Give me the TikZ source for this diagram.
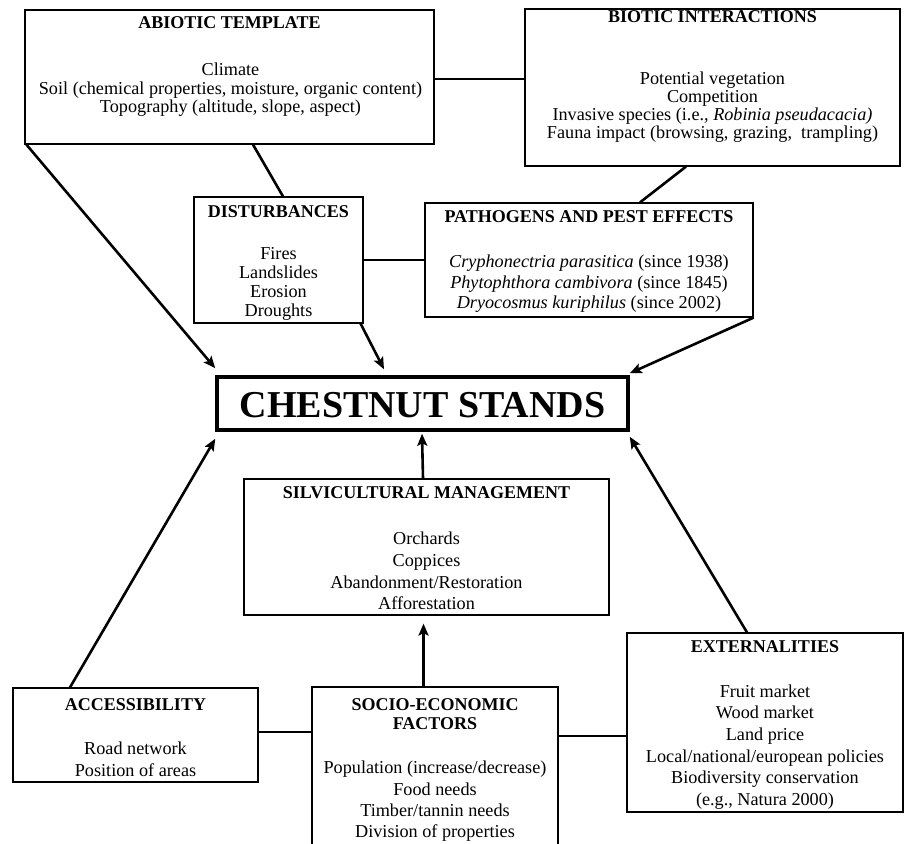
\documentclass[tikz,border=0pt]{standalone}
\usepackage{fontspec}
\setmainfont{Liberation Serif}
\usetikzlibrary{arrows.meta,calc}
\begin{document}
\begin{tikzpicture}[x=1pt,y=-1pt,
  box/.style={draw=black,line width=1.2pt,rectangle,inner sep=0pt},
  ttl/.style={font=\fontsize{18}{19}\selectfont\bfseries,inner sep=0pt,align=center},
  body/.style={align=center,inner sep=0pt,font=\fontsize{18.2}{#1}\selectfont},
  link/.style={line width=2.6pt},
  arr/.style={line width=2.6pt,-{Stealth[length=12pt,width=10pt,inset=2.5pt]}}]
\useasboundingbox (0,0) rectangle (904,843);
\clip (0,0) rectangle (904,843);
\fill[white] (0,0) rectangle (904,843);

% boxes
\node[box,minimum width=409pt,minimum height=134pt] (abiotic) at (229.5,77) {};
\node[box,minimum width=375pt,minimum height=157pt] (biotic) at (712.5,87.5) {};
\node[box,minimum width=169pt,minimum height=126pt] (dist) at (278.5,260) {};
\node[box,minimum width=328pt,minimum height=114pt] (path) at (589,260) {};
\node[draw=black,line width=3.5pt,rectangle,inner sep=0pt,minimum width=411pt,minimum height=53pt] (chest) at (422.5,403.5) {};
\node[box,minimum width=365pt,minimum height=136pt] (silv) at (426.5,547) {};
\node[box,minimum width=245pt,minimum height=94pt] (acc) at (135.5,735) {};
\node[box,minimum width=246pt,minimum height=173pt] (socio) at (435,773.5) {};
\node[box,minimum width=276pt,minimum height=179pt] (ext) at (765,722.5) {};

% texts
\node[ttl] (abiotic-t) at (229.5,23) {ABIOTIC TEMPLATE};
\node[body=18.5] (abiotic-b) at (230.5,90) {Climate\\Soil (chemical properties, moisture, organic content)\\Topography (altitude, slope, aspect)};

\node[ttl] (biotic-t) at (712.5,17) {BIOTIC INTERACTIONS};
\node[body=18] (biotic-b) at (712.5,107.5) {Potential vegetation\\Competition\\Invasive species (i.e., \textit{Robinia pseudacacia)}\\Fauna impact (browsing, grazing,\ \ trampling)};

\node[ttl] (dist-t) at (278.5,212) {DISTURBANCES};
\node[body=19] (dist-b) at (278.5,284) {Fires\\Landslides\\Erosion\\Droughts};

\node[ttl] (path-t) at (589,217) {PATHOGENS AND PEST EFFECTS};
\node[body=20.5] (path-b) at (589,284) {\textit{Cryphonectria parasitica} (since 1938)\\\textit{Phytophthora cambivora} (since 1845)\\\textit{Dryocosmus kuriphilus} (since 2002)};

\node[font=\fontsize{38}{40}\selectfont\bfseries,inner sep=0pt] (chest-t) at (422.5,405) {CHESTNUT STANDS};

\node[ttl] (silv-t) at (426.5,493) {SILVICULTURAL MANAGEMENT};
\node[body=21.7] (silv-b) at (426.5,571) {Orchards\\Coppices\\Abandonment/Restoration\\Afforestation};

\node[ttl] (acc-t) at (135.5,705) {ACCESSIBILITY};
\node[body=22] (acc-b) at (135.5,759.5) {Road network\\Position of areas};

\node[ttl] (socio-t) at (435,714.5) {SOCIO-ECONOMIC\\FACTORS};
\node[body=21.3] (socio-b) at (435,801.5) {Population (increase/decrease)\\Food needs\\Timber/tannin needs\\Division of properties};

\node[ttl] (ext-t) at (765,647) {EXTERNALITIES};
\node[body=21.6] (ext-b) at (765,747) {Fruit market\\Wood market\\Land price\\Local/national/european policies\\Biodiversity conservation\\(e.g., Natura 2000)};

% helper levels
\coordinate (yA) at (0,79);
\coordinate (yB) at (0,736);
\coordinate (yC) at (0,732);

% connectors
\draw[link] (abiotic.east |- yA) -- (biotic.west |- yA);
\draw[link] ([xshift=23.5pt]abiotic.south) -- ([xshift=4.5pt]dist.north);
\draw[link] ([xshift=-26.5pt]biotic.south) -- ([xshift=51pt]path.north);
\draw[link] (dist.east) -- (dist.east -| path.west);
\draw[link] (acc.east |- yC) -- (socio.west |- yC);
\draw[link] (socio.east |- yB) -- (ext.west |- yB);

\draw[arr] ([xshift=2pt]abiotic.south west) -- ([yshift=7pt]chest.north west);
\draw[arr] ([xshift=-3pt]dist.south east) -- ([xshift=-38.5pt,yshift=6pt]chest.north);
\draw[arr] (path.south east) -- ([yshift=2pt]chest.north east);
\draw[arr] ([xshift=-3.5pt]silv.north) -- ([xshift=-0.5pt,yshift=-2pt]chest.south);
\draw[arr] ([xshift=-11.5pt]socio.north) -- ([xshift=-3pt,yshift=-8pt]silv.south);
\draw[arr] ([xshift=-65.5pt]acc.north) -- ([yshift=-7pt]chest.south west);
\draw[arr] ([xshift=-18pt]ext.north) -- ([yshift=-5pt]chest.south east);
\end{tikzpicture}
\end{document}
